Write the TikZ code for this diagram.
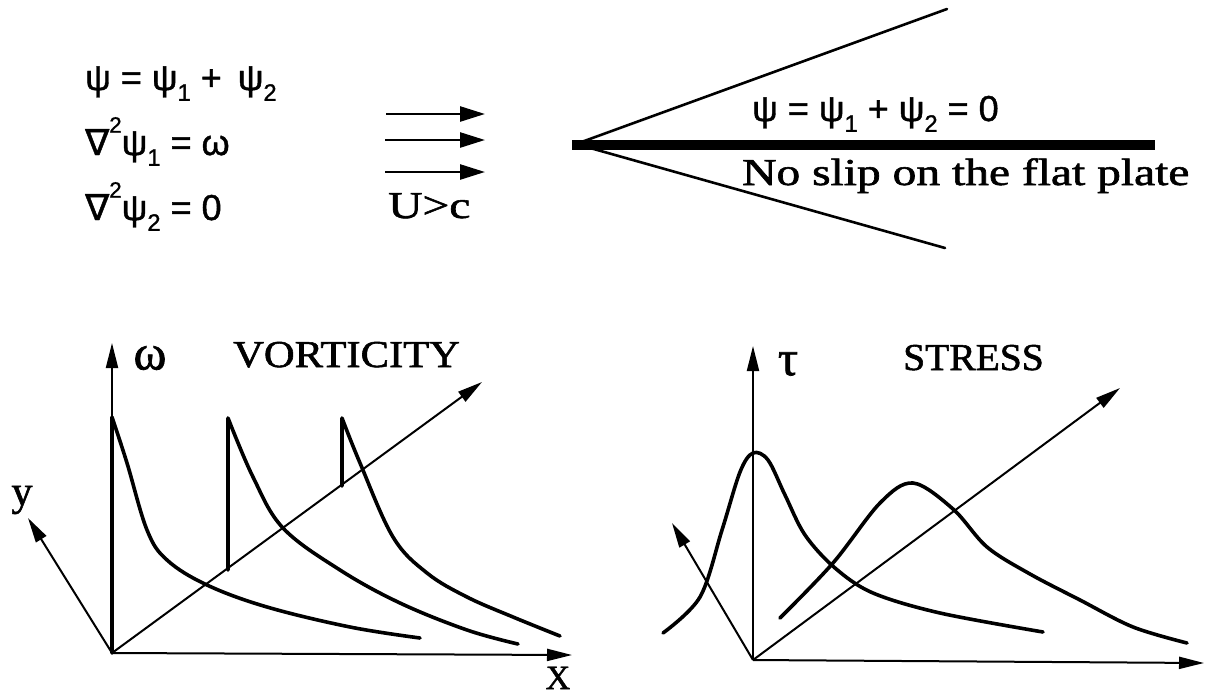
\documentclass[tikz,border=0pt]{standalone}
\usepackage{fontspec}
\usepackage{graphicx}
\usetikzlibrary{arrows.meta}
\newfontfamily\eqf[FakeBold=1.2]{Liberation Sans}
\newfontfamily\nabf[FakeBold=1.2]{DejaVu Sans}
\newfontfamily\serf[FakeBold=1.4]{Liberation Serif}
\newcommand\lo[1]{\raisebox{-0.3em}{\scalebox{0.66}{#1}}}
\newcommand\hi[1]{\raisebox{0.62em}{\scalebox{0.62}{#1}}}
\newcommand\widen[2]{\scalebox{#1}[1]{#2}}
\tikzset{
  eqtext/.style={font=\eqf\fontsize{36}{36}\selectfont, anchor=base west, inner sep=0pt},
  sertext/.style={font=\serf\fontsize{38}{38}\selectfont, anchor=base west, inner sep=0pt},
  greek/.style={font=\serf\fontsize{50}{50}\selectfont, inner sep=0pt},
  axis/.style={line width=2pt, -{Triangle[length=25pt,width=12pt]}},
  flow/.style={line width=2.6pt, -{Triangle[length=25pt,width=15pt]}},
  curve/.style={line width=3.6pt, line cap=round, line join=round},
  wedge/.style={line width=2.6pt, line cap=round},
  plate/.style={line width=10.5pt}
}
\begin{document}
\begin{tikzpicture}[x=1pt,y=-1pt]
\useasboundingbox (0,0) rectangle (1210,694);
\fill[white] (0,0) rectangle (1210,694);

% equations
\node[eqtext] (eq1) at (85,90) {ψ = ψ\lo{1} + \,ψ\lo{2}};
\node[eqtext] (eq2) at (85,155) {{\nabf ∇}\hi{2}ψ\lo{1} = ω};
\node[eqtext] (eq3) at (85,220) {{\nabf ∇}\hi{2}ψ\lo{2} = 0};

% flow arrows
\coordinate (f1s) at (386,114); \coordinate (f1e) at (485,114);
\coordinate (f2s) at (385,140); \coordinate (f2e) at (485,140);
\coordinate (f3s) at (385,172); \coordinate (f3e) at (485,172);
\draw[flow] (f1s) -- (f1e);
\draw[flow] (f2s) -- (f2e);
\draw[flow] (f3s) -- (f3e);
\node[sertext] (ugc) at (388,218) {\widen{1.25}{U>c}};

% plate and wedge
\coordinate (apex) at (576,144);
\coordinate (wtop) at (947,9);
\coordinate (wbot) at (945,248);
\coordinate (plL) at (572,145);
\coordinate (plR) at (1155,145);
\draw[wedge] (apex) -- (wtop);
\draw[wedge] (apex) -- (wbot);
\draw[plate] (plL) -- (plR);
\node[eqtext] (bc) at (752,121) {ψ = ψ\lo{1} + ψ\lo{2} = 0};
\node[sertext] (noslip) at (742,185) {\widen{1.25}{No slip on the flat plate}};

% vorticity plot
\coordinate (O1) at (112,653);
\coordinate (W1) at (112,343);
\coordinate (Y1) at (28,518);
\coordinate (D1) at (482,382);
\coordinate (X1) at (572,655);
\draw[axis] (O1) -- (W1);
\draw[axis] (O1) -- (Y1);
\draw[axis] (O1) -- (D1);
\draw[axis] (O1) -- (X1);
\node[greek] (wlab) at (150,358) {ω};
\node[sertext] (vort) at (233,367) {\widen{1.12}{VORTICITY}};
\node[greek, font=\serf\fontsize{42}{42}\selectfont] (ylab) at (22,500) {y};
\node[font=\serf\fontsize{34}{34}\selectfont, inner sep=0pt, anchor=base] (xlab) at (558,689) {X};

\draw[curve] (O1) -- (112,417) -- plot[smooth, tension=0.6] coordinates {(112,417) (127,463) (147,530) (167,560) (207,585) (267,607) (350,627) (420,638)};
\draw[curve] (228,570) -- (228,418) -- plot[smooth, tension=0.6] coordinates {(228,418) (253,477) (283,528) (340,570) (400,603) (467,630) (518,644)};
\draw[curve] (342,486) -- (342,418) -- plot[smooth, tension=0.6] coordinates {(342,418) (360,463) (393,537) (427,573) (467,597) (513,617) (560,636)};

% stress plot
\coordinate (O2) at (753,660);
\coordinate (T2) at (753,346);
\coordinate (L2) at (672,523);
\coordinate (D2) at (1120,388);
\coordinate (X2) at (1204,663);
\draw[axis] (O2) -- (T2);
\draw[axis] (O2) -- (L2);
\draw[axis] (O2) -- (D2);
\draw[axis] (O2) -- (X2);
\node[greek] (tlab) at (788,364) {τ};
\node[sertext] (stress) at (903,370) {\widen{1.04}{STRESS}};

\draw[curve] plot[smooth, tension=0.55] coordinates {(663,633) (700,597) (722,530) (740,472) (753,453) (768,460) (785,495) (805,535) (835,568) (873,593) (940,613) (1043,632)};
\draw[curve] plot[smooth, tension=0.55] coordinates {(780,618) (833,563) (880,503) (913,483) (953,509) (987,547) (1030,574) (1080,600) (1133,627) (1187,643)};
\end{tikzpicture}
\end{document}
